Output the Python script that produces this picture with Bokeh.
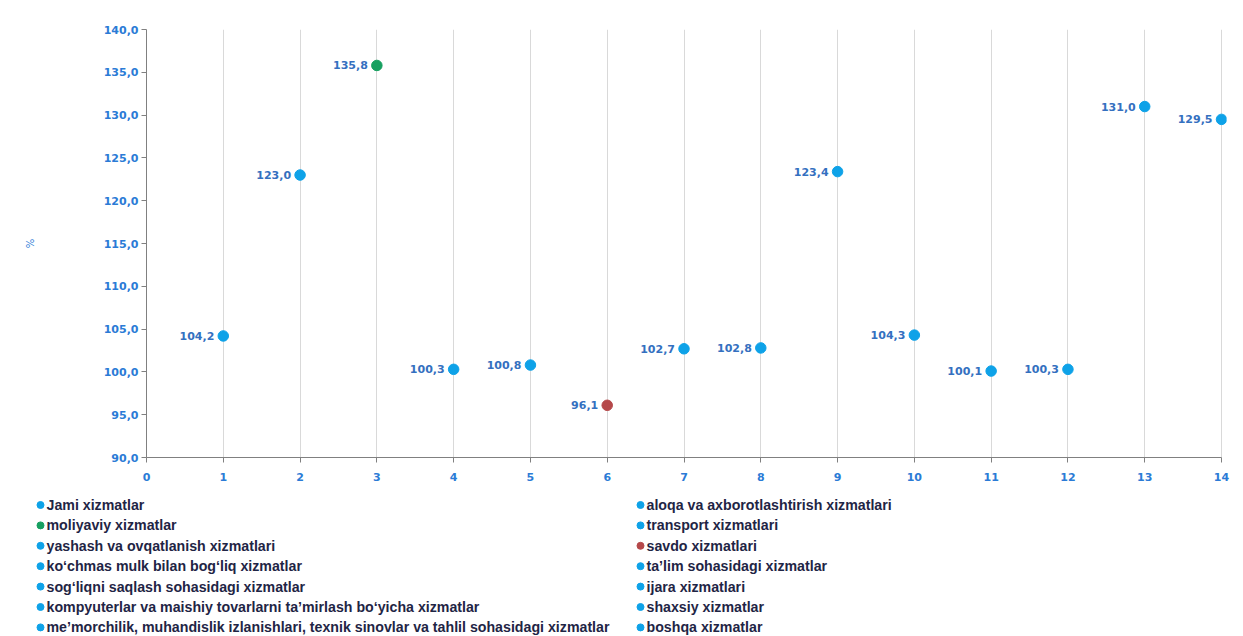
from bokeh.plotting import figure
from bokeh.models import ColumnDataSource, Range1d, FixedTicker, CustomJSTickFormatter
from bokeh.embed import file_html
from bokeh.resources import INLINE
from bokeh.core.properties import value

names = [
    "Jami xizmatlar",
    "aloqa va axborotlashtirish xizmatlari",
    "moliyaviy xizmatlar",
    "transport xizmatlari",
    "yashash va ovqatlanish xizmatlari",
    "savdo xizmatlari",
    "ko\u2018chmas mulk bilan bog\u2018liq xizmatlar",
    "ta\u2019lim sohasidagi xizmatlar",
    "sog\u2018liqni saqlash sohasidagi xizmatlar",
    "ijara xizmatlari",
    "kompyuterlar va maishiy tovarlarni ta\u2019mirlash bo\u2018yicha xizmatlar",
    "shaxsiy xizmatlar",
    "me\u2019morchilik, muhandislik izlanishlari, texnik sinovlar va tahlil sohasidagi xizmatlar",
    "boshqa  xizmatlar",
]
xs = [1, 2, 3, 4, 5, 6, 7, 8, 9, 10, 11, 12, 13, 14]
vals = [104.2, 123.0, 135.8, 100.3, 100.8, 96.1, 102.7, 102.8, 123.4, 104.3, 100.1, 100.3, 131.0, 129.5]
colors = ["#0ea2e8", "#0ea2e8", "#17a060", "#0ea2e8", "#0ea2e8", "#b5484a", "#0ea2e8",
          "#0ea2e8", "#0ea2e8", "#0ea2e8", "#0ea2e8", "#0ea2e8", "#0ea2e8", "#0ea2e8"]
y_ticks = [90, 95, 100, 105, 110, 115, 120, 125, 130, 135, 140]
x_ticks = list(range(0, 15))

FONT = "DejaVu Sans"
LEG_FONT = "Liberation Sans"
TICK_COLOR = "#2b7bd6"
LABEL_COLOR = "#3470c0"
W = 1235

p = figure(width=W, height=490, output_backend="svg", toolbar_location=None,
           x_range=Range1d(0, 14.065), y_range=Range1d(90, 140),
           min_border_left=146, min_border_right=9, min_border_top=29, min_border_bottom=33)
p.outline_line_color = None
p.ygrid.grid_line_color = None
p.xgrid.grid_line_color = "#d9d9d9"
p.xgrid.ticker = FixedTicker(ticks=x_ticks)

for ax in (p.xaxis[0], p.yaxis[0]):
    ax.axis_line_color = "#808080"
    ax.major_tick_line_color = "#808080"
    ax.major_tick_out = 5
    ax.major_tick_in = 0
    ax.minor_tick_line_color = None
    ax.major_label_text_font = FONT
    ax.major_label_text_font_style = "bold"
    ax.major_label_text_font_size = "11px"
    ax.major_label_text_color = TICK_COLOR

p.xaxis.bounds = (0, 14)
p.xaxis.ticker = FixedTicker(ticks=x_ticks)
p.yaxis.ticker = FixedTicker(ticks=y_ticks)
p.yaxis.formatter = CustomJSTickFormatter(code="return tick.toFixed(1).replace('.', ',');")
p.xaxis.major_label_standoff = 10
p.yaxis.major_label_standoff = 3
p.yaxis.axis_label = "%"
p.yaxis.axis_label_text_font = FONT
p.yaxis.axis_label_text_font_size = "10px"
p.yaxis.axis_label_text_font_style = "normal"
p.yaxis.axis_label_text_color = TICK_COLOR
p.yaxis.axis_label_standoff = 65

labels = [f"{v:.1f}".replace(".", ",") for v in vals]
src = ColumnDataSource(dict(x=xs, y=vals, c=colors, lab=labels, name=names))
p.scatter("x", "y", source=src, size=10.5, fill_color="c", line_color="c")
p.text("x", "y", text="lab", source=src, x_offset=-9, text_align="right", text_baseline="middle",
       text_font=value(FONT), text_font_style="bold", text_font_size="11px", text_color=LABEL_COLOR)

# legend panel (two columns, row-major order), drawn as its own root
LH = 146
leg = figure(width=W, height=LH, output_backend="svg", toolbar_location=None,
             x_range=Range1d(0, W), y_range=Range1d(LH, 0),
             x_axis_location=None, y_axis_location=None,
             min_border_left=0, min_border_right=0, min_border_top=0, min_border_bottom=0)
leg.outline_line_color = None
leg.grid.grid_line_color = None
col_x = [40, 640]
row0, row_step = 14.5, 20.4
lx = [col_x[i % 2] for i in range(len(names))]
ly = [row0 + (i // 2) * row_step for i in range(len(names))]
lsrc = ColumnDataSource(dict(x=lx, y=ly, c=colors, name=names))
leg.scatter("x", "y", source=lsrc, size=7, fill_color="c", line_color="c")
leg.text("x", "y", text="name", source=lsrc, x_offset=6, text_align="left", text_baseline="middle",
         text_font=value(LEG_FONT), text_font_style="bold", text_font_size="14.2px",
         text_color="#1f2545")

open("out.html", "w").write(file_html([p, leg], INLINE))
